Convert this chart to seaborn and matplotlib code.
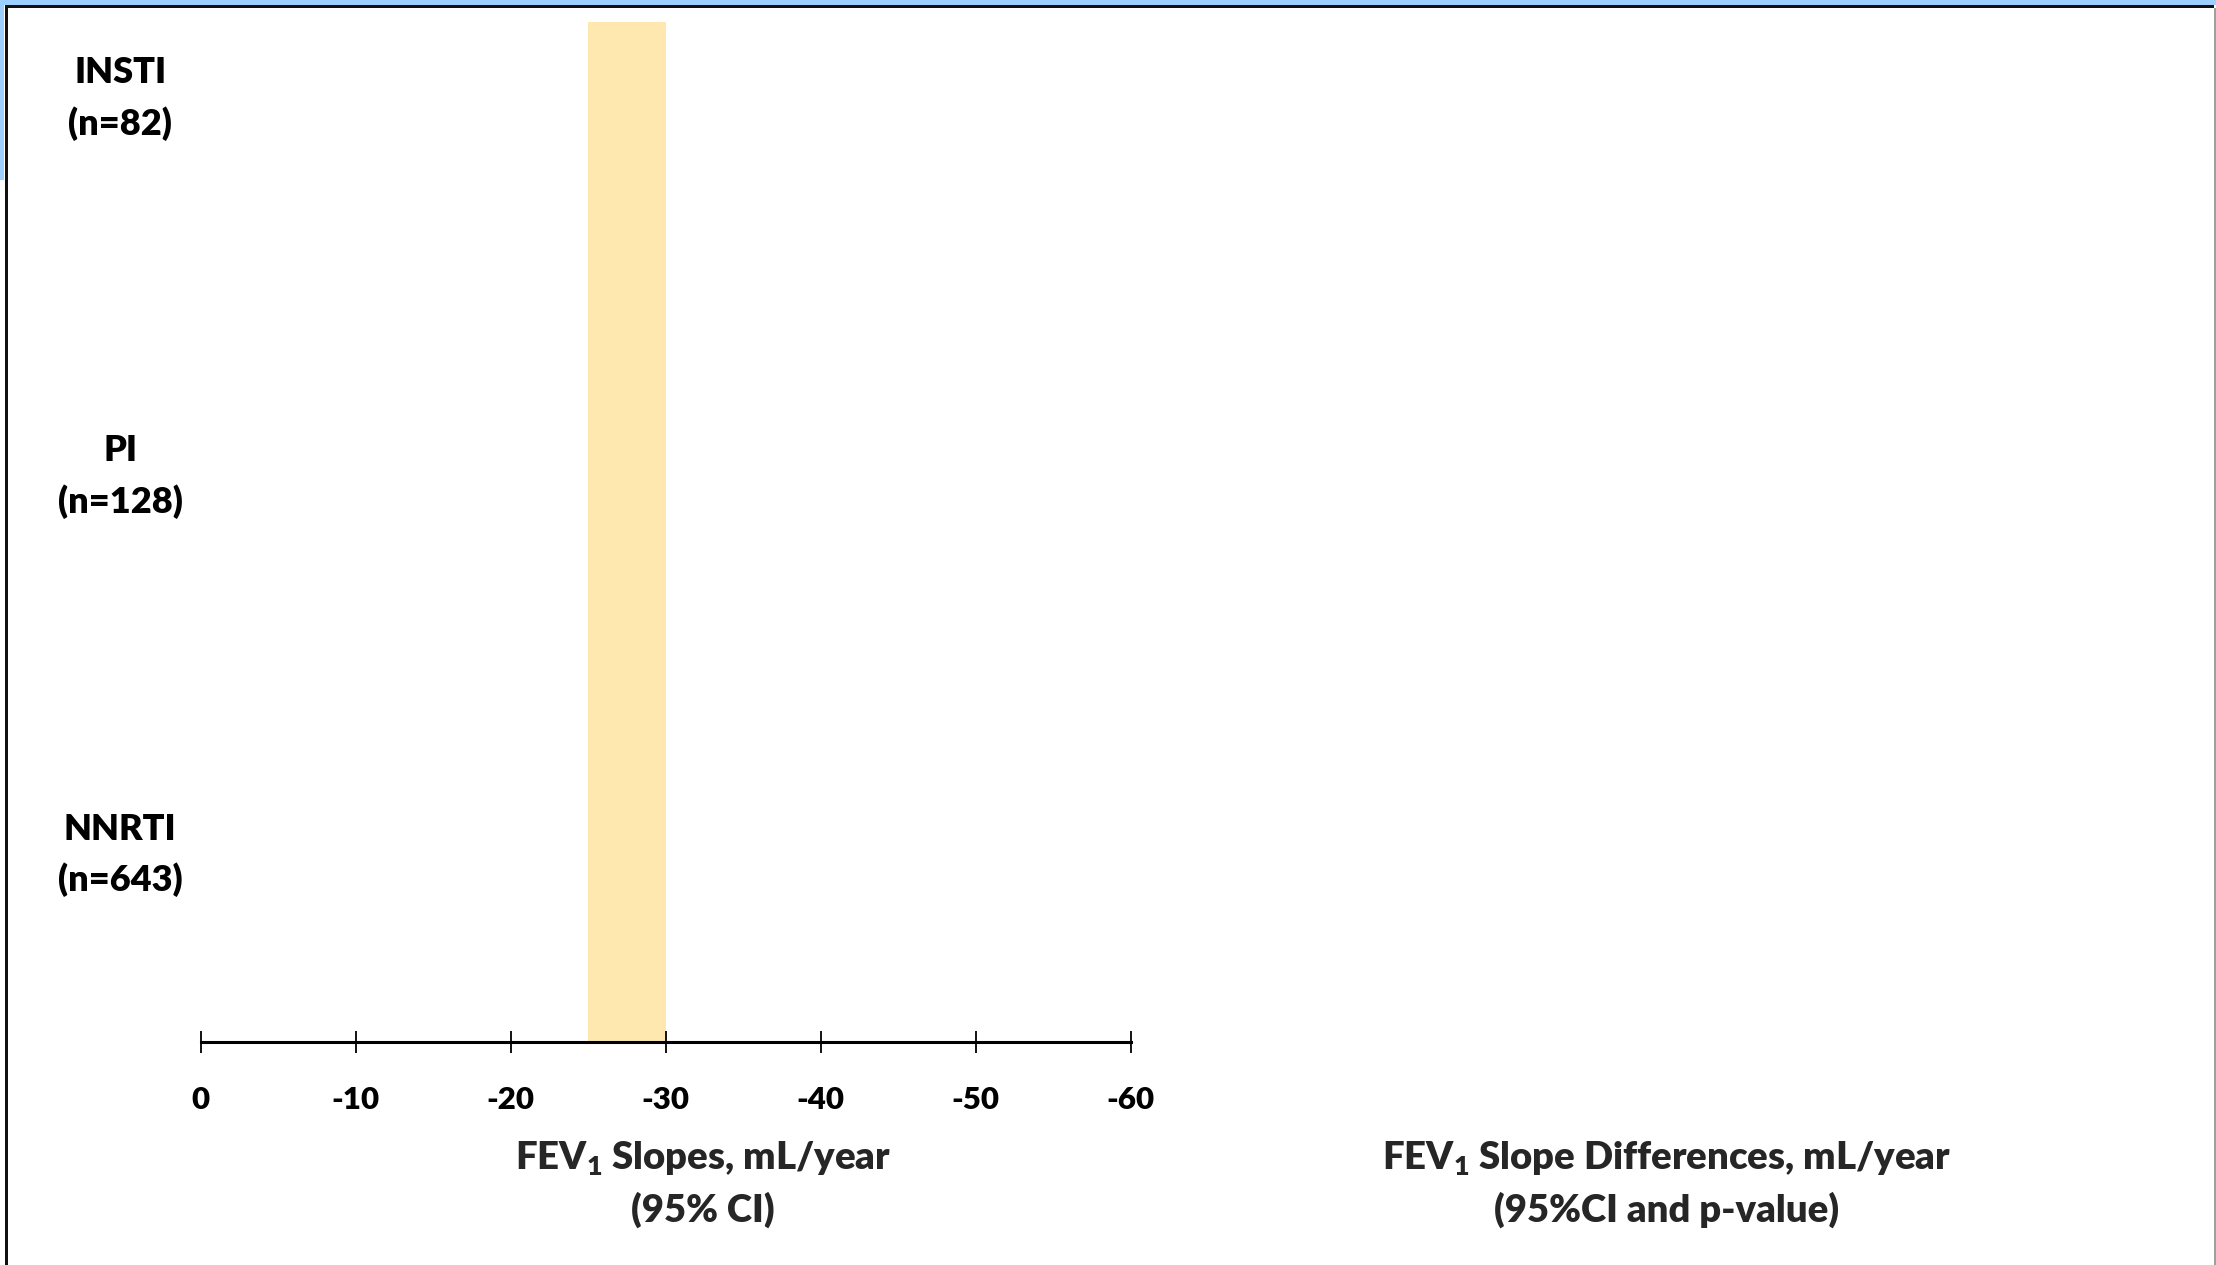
import matplotlib
matplotlib.use("Agg")
import matplotlib.pyplot as plt
from matplotlib.patches import Rectangle
import seaborn as sns

# donnees du graphique
groups = ["INSTI\n(n=82)", "PI\n(n=128)", "NNRTI\n(n=643)"]
group_pos = [0, 1, 2]
x_ticks = [0, -10, -20, -30, -40, -50, -60]
x_ticklabels = ["0", "-10", "-20", "-30", "-40", "-50", "-60"]
ref_band = [-25, -30]  # bande de reference (declin attendu)

left_label = "FEV$_{\\mathbf{1}}$ Slopes, mL/year\n(95% CI)"
right_label = "FEV$_{\\mathbf{1}}$ Slope Differences, mL/year\n(95%CI and p-value)"

sns.set_theme(style="white")
plt.rcParams["font.family"] = ["Lato", "DejaVu Sans"]
plt.rcParams["font.weight"] = "heavy"
plt.rcParams["mathtext.fontset"] = "custom"
plt.rcParams["mathtext.rm"] = "Lato:heavy"
plt.rcParams["mathtext.bf"] = "Lato:heavy"

W, H = 2216, 1265
fig = plt.figure(figsize=(W / 100, H / 100), dpi=100)
fig.patch.set_facecolor("white")

# axe gauche (pentes)
ax = fig.add_axes([200.7 / W, 1 - 1041.5 / H, (1130.6 - 200.7) / W, (1041.5 - 22) / H])
ax.axvspan(ref_band[0], ref_band[1], color="#FEE8B0", zorder=0, lw=0)
ax.set_xlim(0, -60)
ax.set_ylim(2.524, -0.172)
ax.set_xticks(x_ticks)
ax.set_xticklabels(x_ticklabels, fontsize=22.5, fontweight="heavy")
ax.set_yticks(group_pos)
ax.set_yticklabels(groups, fontsize=26, fontweight="heavy", ha="center",
                   linespacing=1.6)
for sp in ["top", "right", "left"]:
    ax.spines[sp].set_visible(False)
ax.spines["bottom"].set_color("black")
ax.spines["bottom"].set_linewidth(2.2)
ax.tick_params(axis="x", bottom=True, direction="inout", length=16, width=1.3,
               color="black", pad=24, labelcolor="black")
ax.tick_params(axis="y", left=False, length=0, pad=58, labelcolor="black")
ax.set_facecolor("none")

# titres des axes
fig.text(703 / W, 1 - 1184 / H, left_label, ha="center", va="center",
         fontsize=27.5, fontweight="heavy", linespacing=1.45)
fig.text(1667 / W, 1 - 1184 / H, right_label, ha="center", va="center",
         fontsize=27.5, fontweight="heavy", linespacing=1.45)

# cadre
def px_rect(x, y, w, h, color):
    fig.add_artist(Rectangle((x / W, 1 - (y + h) / H), w / W, h / H,
                             transform=fig.transFigure, color=color, lw=0))

px_rect(0, 0, W, 5, "#9CCFFF")
px_rect(0, 0, 4, 180, "#9CCFFF")
px_rect(5, 5, W - 7, 3, "#111111")
px_rect(5, 5, 3, H - 5, "#111111")
px_rect(W - 2, 8, 2, H - 8, "#A0A0A0")

fig.savefig("out.png", dpi=100)
